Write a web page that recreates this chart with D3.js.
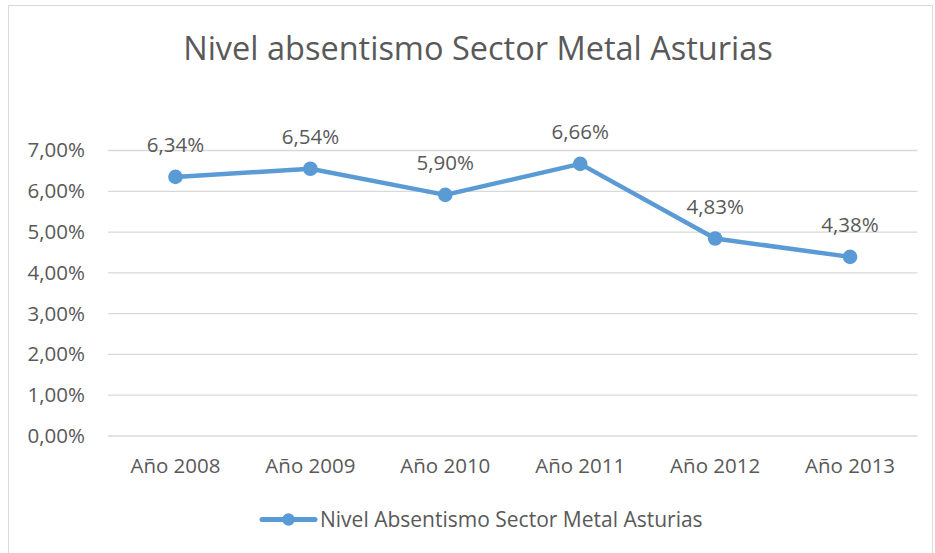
<!DOCTYPE html>
<html>
<head>
<meta charset="utf-8">
<script src="https://cdn.jsdelivr.net/npm/d3@7"></script>
<style>
    body { margin: 0; background: #fff; }
    text { font-family: "Open Sans", sans-serif; fill: #595959; }
</style>
</head>
<body>
<svg id="svg" width="935" height="553"></svg>
<script>
// chart data
const years = ["Año 2008", "Año 2009", "Año 2010", "Año 2011", "Año 2012", "Año 2013"];
const absentismo = [0.0634, 0.0654, 0.0590, 0.0666, 0.0483, 0.0438];
const yTicks = [0, 0.01, 0.02, 0.03, 0.04, 0.05, 0.06, 0.07];
const chartTitle = "Nivel absentismo Sector Metal Asturias";
const seriesName = "Nivel Absentismo Sector Metal Asturias";

const width = 935, height = 553;
const lineColour = "#5B9BD5";
let svg = d3.select("#svg");

// comma decimal format, e.g. 6,34%
const fmt = v => d3.format(".2%")(v).replace(".", ",");

// outer frame
svg.append("rect")
    .attr("x", 8.5).attr("y", 5.5)
    .attr("width", 924).attr("height", 560)
    .attr("fill", "none")
    .attr("stroke", "#d9d9d9");

// Title
svg.append("text")
    .attr("x", 478)
    .attr("y", 60)
    .attr("text-anchor", "middle")
    .style("font-size", "32.5px")
    .text(chartTitle);

let xScale = d3.scaleBand()
    .domain(years)
    .range([108, 917.5])
    .padding(0);

let yScale = d3.scaleLinear()
    .domain([0, 0.07])
    .range([435.5, 150]);

// gridlines + y labels
let yAxis = svg.append("g")
    .attr("transform", "translate(108,0)")
    .call(d3.axisLeft(yScale).tickValues(yTicks).tickFormat(fmt)
        .tickSize(-(917.5 - 108)).tickPadding(23));
yAxis.select(".domain").remove();
yAxis.selectAll(".tick line").attr("stroke", "#d9d9d9").attr("stroke-width", 1.3);
yAxis.selectAll(".tick text")
    .attr("dy", "0.34em")
    .style("font-size", "20.5px")
    .style("font-family", "'Open Sans', sans-serif")
    .attr("fill", "#595959");

// x labels
let xAxis = svg.append("g")
    .attr("transform", "translate(0,435.5)")
    .call(d3.axisBottom(xScale).tickSize(0).tickPadding(23));
xAxis.select(".domain").remove();
xAxis.selectAll(".tick text")
    .attr("dy", "0.7em")
    .style("font-size", "20.5px")
    .style("font-family", "'Open Sans', sans-serif")
    .attr("fill", "#595959");

const cx = (d, i) => xScale(years[i]) + xScale.bandwidth() / 2;

// line
let line = d3.line()
    .x((d, i) => cx(d, i))
    .y(d => yScale(d));

svg.append("path")
    .datum(absentismo)
    .attr("d", line)
    .attr("fill", "none")
    .attr("stroke", lineColour)
    .attr("stroke-width", 4.5)
    .attr("stroke-linejoin", "round");

svg.selectAll(".dot")
    .data(absentismo)
    .enter().append("circle")
    .attr("class", "dot")
    .attr("cx", cx)
    .attr("cy", d => yScale(d))
    .attr("r", 7.3)
    .attr("fill", lineColour);

// data labels
svg.selectAll(".lbl")
    .data(absentismo)
    .enter().append("text")
    .attr("class", "lbl")
    .attr("x", cx)
    .attr("y", d => yScale(d) - 24.5)
    .attr("text-anchor", "middle")
    .style("font-size", "20.5px")
    .text(fmt);

// legend
let legend = svg.append("g");
legend.append("line")
    .attr("x1", 262).attr("x2", 315)
    .attr("y1", 519.5).attr("y2", 519.5)
    .attr("stroke", lineColour)
    .attr("stroke-width", 5)
    .attr("stroke-linecap", "round");
legend.append("circle")
    .attr("cx", 288.5).attr("cy", 519.5)
    .attr("r", 6.2)
    .attr("fill", lineColour);
legend.append("text")
    .attr("x", 320)
    .attr("y", 527)
    .style("font-size", "21px")
    .text(seriesName);
</script>
</body>
</html>
